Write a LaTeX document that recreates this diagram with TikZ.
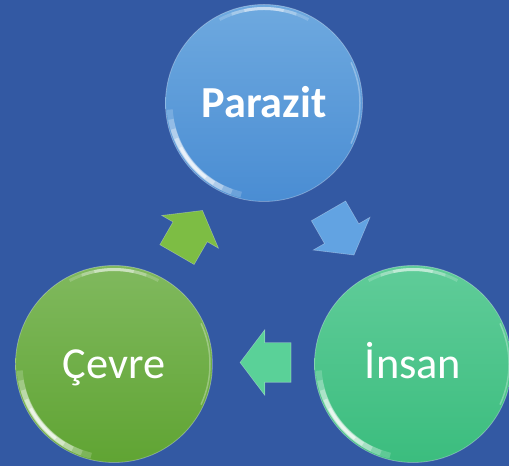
\documentclass[tikz,border=0pt]{standalone}
\usepackage{fontspec}
\setmainfont{Carlito}
\usetikzlibrary{calc,shapes.arrows}

\definecolor{bgblue}{HTML}{3359A3}
\definecolor{paratop}{HTML}{6EA9DF}
\definecolor{parabot}{HTML}{4A8DD3}
\definecolor{insantop}{HTML}{60CC99}
\definecolor{insanbot}{HTML}{3BBD7E}
\definecolor{cevretop}{HTML}{80B95E}
\definecolor{cevrebot}{HTML}{60A433}
\definecolor{arrowblue}{HTML}{62A3E2}
\definecolor{arrowteal}{HTML}{5AD198}
\definecolor{arrowgreen}{HTML}{7DBD44}

% soft white reflections on a bubble
\def\rimglow(#1){%
  \foreach \a/\b/\w/\o in {184/256/6/0.18, 190/250/5.5/0.22, 196/244/5/0.3, 202/238/4/0.4, 208/232/3/0.55}
    \draw[white, line width=\w bp, opacity=\o] ($(#1)+(\a:94.5bp)$) arc (\a:\b:94.5bp);
  \foreach \a/\b/\o in {62/118/0.18, 70/110/0.25, 78/102/0.35}
    \draw[white, line width=3bp, opacity=\o] ($(#1)+(\a:94.5bp)$) arc (\a:\b:94.5bp);
  \draw[white, line width=1.5bp, opacity=0.3] ($(#1)+(-25:96bp)$) arc (-25:25:96bp);
}

\begin{document}
\begin{tikzpicture}[x=1bp, y=1bp,
    bubble/.style={circle, minimum size=197bp, inner sep=0pt, text=white,
      draw=white, draw opacity=0.3, line width=0.8bp,
      font=\fontsize{44.5}{52}\selectfont, text height=28.5bp, text depth=0pt},
    cyclearrow/.style={single arrow, minimum height=51bp, minimum width=0pt,
      inner sep=0pt, inner ysep=19.5bp, single arrow head extend=13bp,
      single arrow tip angle=106, draw=white, draw opacity=0.3, line width=0.6bp}]
  %%%%% START %%%%%

  \fill[bgblue] (0,0) rectangle (509,466);
  \useasboundingbox (0,0) rectangle (509,466);

  \node[bubble, top color=paratop, bottom color=parabot, font=\fontsize{44.5}{52}\selectfont\bfseries]
    (parazit) at (264,363) {Parazit};
  \node[bubble, top color=insantop, bottom color=insanbot] (insan) at (413,102) {İnsan};
  \node[bubble, top color=cevretop, bottom color=cevrebot] (cevre) at (114,102) {Çevre};

  \rimglow(parazit)
  \rimglow(insan)
  \rimglow(cevre)

  \node[cyclearrow, fill=arrowblue, rotate=-60] (pi) at ($(parazit)!0.5!(insan)+(-1,7)$) {};
  \node[cyclearrow, fill=arrowteal, rotate=180] (ic) at ($(insan)!0.5!(cevre)+(9.5,1.5)$) {};
  \node[cyclearrow, fill=arrowgreen, rotate=60] (cp) at ($(cevre)!0.5!(parazit)+(-3,-5.5)$) {};

  %%%%% END %%%%%
\end{tikzpicture}
\end{document}
